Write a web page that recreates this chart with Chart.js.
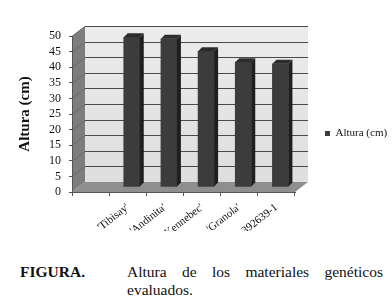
<!DOCTYPE html>
<html>
<head>
<meta charset="utf-8">
<script src="https://cdn.jsdelivr.net/npm/chart.js@4.4.0/dist/chart.umd.min.js"></script>
<style>
  body { margin: 0; background: #fff; }
  #wrap { position: relative; width: 392px; height: 308px; font-family: "Liberation Serif", "Times New Roman", serif; color: #111; }
  #chart { position: absolute; left: 0; top: 0; }
  .cap-a { position: absolute; left: 20px; top: 263px; font-size: 15.5px; line-height: 17.5px; font-weight: bold; }
  .cap-b { position: absolute; left: 127px; top: 263px; width: 256px; font-size: 15.5px; line-height: 17.5px; text-align: justify; text-align-last: left; }
</style>
</head>
<body>
<div id="wrap">
  <canvas id="chart" width="392" height="250"></canvas>
  <div class="cap-a">FIGURA.</div>
  <div class="cap-b">Altura de los materiales genéticos evaluados.</div>
</div>
<script>
// data (first slot is empty in the original sheet)
const categories = ['', "'Tibisay'", "'Andinita'", "'Kennebec'", "'Granola'", '392639-1'];
const alturaCm = [null, 48, 47.5, 43.5, 40, 39.5];
const yTicks = [0, 5, 10, 15, 20, 25, 30, 35, 40, 45, 50];

// fake 3d depth of the walls and of the bars
const DX = 13, DY = 10;
const BAR_OFF_X = 4, BAR_OFF_Y = 5, BAR_DX = 4, BAR_DY = 4;

const walls = {
  id: 'walls',
  beforeDraw(chart) {
    const { ctx, chartArea: a, scales: { y } } = chart;
    ctx.save();
    // back wall
    const g = ctx.createLinearGradient(0, a.top - DY, 0, a.bottom - DY);
    g.addColorStop(0, '#ececec');
    g.addColorStop(1, '#dedede');
    ctx.fillStyle = g;
    ctx.fillRect(a.left + DX, a.top - DY, a.right - a.left, a.bottom - a.top);
    // left wall
    ctx.fillStyle = '#7d7d7d';
    ctx.beginPath();
    ctx.moveTo(a.left, a.top);
    ctx.lineTo(a.left + DX, a.top - DY);
    ctx.lineTo(a.left + DX, a.bottom - DY);
    ctx.lineTo(a.left, a.bottom);
    ctx.closePath();
    ctx.fill();
    // floor
    ctx.fillStyle = '#8e8e8e';
    ctx.beginPath();
    ctx.moveTo(a.left, a.bottom);
    ctx.lineTo(a.right, a.bottom);
    ctx.lineTo(a.right + DX, a.bottom - DY);
    ctx.lineTo(a.left + DX, a.bottom - DY);
    ctx.closePath();
    ctx.fill();
    // grid lines on back wall + left wall
    yTicks.forEach(v => {
      if (v === 0) return;
      const py = Math.round(y.getPixelForValue(v)) + 0.5;
      ctx.strokeStyle = '#4a4a4a';
      ctx.lineWidth = 1;
      ctx.beginPath();
      ctx.moveTo(a.left + DX, py - DY);
      ctx.lineTo(a.right + DX, py - DY);
      ctx.stroke();
      ctx.strokeStyle = '#6a6a6a';
      ctx.beginPath();
      ctx.moveTo(a.left, py);
      ctx.lineTo(a.left + DX, py - DY);
      ctx.stroke();
    });
    ctx.restore();
  },
  beforeDatasetsDraw(chart) {
    // bars are pushed a bit into the depth
    chart.ctx.save();
    chart.ctx.translate(BAR_OFF_X, -BAR_OFF_Y);
  },
  afterDatasetsDraw(chart) {
    const { ctx } = chart;
    chart.getDatasetMeta(0).data.forEach((bar, i) => {
      if (alturaCm[i] == null) return;
      const l = bar.x - bar.width / 2, r = bar.x + bar.width / 2;
      // top face
      ctx.fillStyle = '#2c2c2c';
      ctx.beginPath();
      ctx.moveTo(l, bar.y);
      ctx.lineTo(l + BAR_DX, bar.y - BAR_DY);
      ctx.lineTo(r + BAR_DX, bar.y - BAR_DY);
      ctx.lineTo(r, bar.y);
      ctx.closePath();
      ctx.fill();
      // side face
      ctx.fillStyle = '#1f1f1f';
      ctx.beginPath();
      ctx.moveTo(r, bar.y);
      ctx.lineTo(r + BAR_DX, bar.y - BAR_DY);
      ctx.lineTo(r + BAR_DX, bar.base - BAR_DY);
      ctx.lineTo(r, bar.base);
      ctx.closePath();
      ctx.fill();
    });
    ctx.restore();
  }
};

const serif = '"Liberation Serif", "Times New Roman", serif';

new Chart(document.getElementById('chart'), {
  type: 'bar',
  data: {
    labels: categories,
    datasets: [{
      label: 'Altura (cm)',
      data: alturaCm,
      backgroundColor: '#3c3c3c',
      borderWidth: 0,
      barThickness: 16,
      clip: false
    }]
  },
  options: {
    responsive: false,
    animation: false,
    devicePixelRatio: 1,
    layout: { padding: { left: 4, right: 0, top: 36, bottom: 19 } },
    plugins: {
      tooltip: { enabled: false },
      legend: {
        position: 'right',
        labels: {
          font: { family: serif, size: 11 },
          color: '#111',
          boxWidth: 5,
          boxHeight: 5,
          padding: 30
        }
      }
    },
    scales: {
      x: {
        afterFit: s => { s.height = 39; },
        grid: { drawOnChartArea: false, offset: true, tickLength: 4, color: '#555' },
        border: { color: '#555' },
        ticks: {
          font: { family: serif, size: 11 },
          color: '#111',
          minRotation: 38,
          maxRotation: 38,
          padding: 5,
          autoSkip: false
        }
      },
      y: {
        min: 0,
        max: 50,
        afterFit: s => { s.width = 68; },
        afterBuildTicks: s => { s.ticks = yTicks.map(v => ({ value: v })); },
        grid: { drawOnChartArea: false, tickLength: 3, color: '#555' },
        border: { color: '#555' },
        ticks: {
          font: { family: serif, size: 12 },
          color: '#111',
          padding: 8,
          autoSkip: false
        },
        title: {
          display: true,
          text: 'Altura (cm)',
          font: { family: serif, size: 15, weight: 'bold' },
          color: '#111',
          padding: { top: 12, bottom: 0 }
        }
      }
    }
  },
  plugins: [walls]
});
</script>
</body>
</html>
